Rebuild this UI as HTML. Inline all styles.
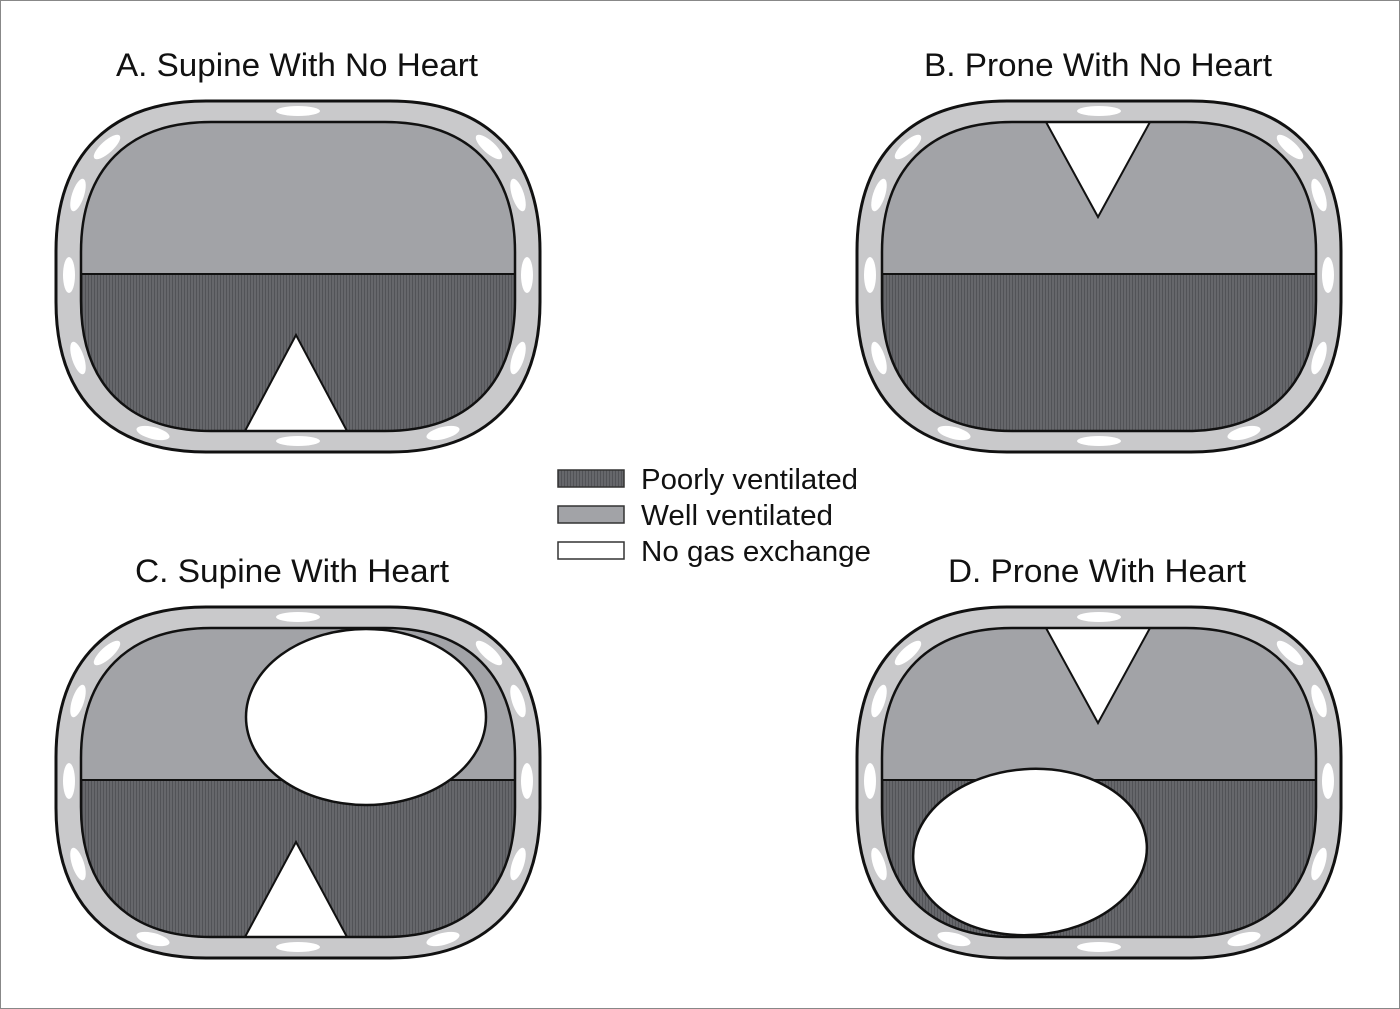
<!DOCTYPE html>
<html><head><style>body{margin:0;background:#fff}svg{display:block}</style></head><body>
<svg width="1400" height="1009" viewBox="0 0 1400 1009" xmlns="http://www.w3.org/2000/svg" font-family="Liberation Sans, sans-serif">
<defs>
<pattern id="poor" width="3" height="3" patternUnits="userSpaceOnUse">
<rect width="3" height="3" fill="#66676b"/><rect width="1" height="3" fill="#525357"/>
</pattern>
<path id="innerPath" d="M156,22 H330 C413,22 460,69 460,152 V201 C460,284 413,331 330,331 H156 C73,331 26,284 26,201 V152 C26,69 73,22 156,22 Z"/>
<g id="ribhalf" fill="#fff">
<ellipse cx="52" cy="47" rx="17" ry="6" transform="rotate(-42 52 47)"/>
<ellipse cx="23" cy="95" rx="17" ry="6" transform="rotate(-72 23 95)"/>
<ellipse cx="14" cy="175" rx="6" ry="18"/>
<ellipse cx="23" cy="258" rx="17" ry="6" transform="rotate(72 23 258)"/>
<ellipse cx="98" cy="333" rx="17" ry="6" transform="rotate(14 98 333)"/>
</g>
<g id="body">
<path d="M151,1 H335 C431,1 485,55 485,151 V202 C485,298 431,352 335,352 H151 C55,352 1,298 1,202 V151 C1,55 55,1 151,1 Z" fill="#c9c9cb" stroke="#111" stroke-width="3"/>
<use href="#ribhalf"/>
<use href="#ribhalf" transform="translate(486 0) scale(-1 1)"/>
<ellipse cx="243" cy="11" rx="22" ry="5" fill="#fff"/>
<ellipse cx="243" cy="341" rx="22" ry="5" fill="#fff"/>
</g>
<clipPath id="inner"><use href="#innerPath"/></clipPath>
<g id="lung">
<g clip-path="url(#inner)">
<rect x="0" y="0" width="486" height="174" fill="#a2a3a7"/>
<rect x="0" y="174" width="486" height="200" fill="url(#poor)"/>
<line x1="0" y1="174" x2="486" y2="174" stroke="#111" stroke-width="2"/>
</g>
</g>
<g id="outline"><use href="#innerPath" fill="none" stroke="#111" stroke-width="2.5"/></g>
</defs>
<rect x="0.5" y="0.5" width="1399" height="1008" fill="#fff" stroke="#888"/>

<text x="297" y="76" font-size="32" text-anchor="middle" fill="#111" textLength="362" lengthAdjust="spacingAndGlyphs">A. Supine With No Heart</text>
<text x="1098" y="76" font-size="32" text-anchor="middle" fill="#111" textLength="348" lengthAdjust="spacingAndGlyphs">B. Prone With No Heart</text>
<text x="292" y="582" font-size="32" text-anchor="middle" fill="#111" textLength="314" lengthAdjust="spacingAndGlyphs">C. Supine With Heart</text>
<text x="1097" y="582" font-size="32" text-anchor="middle" fill="#111" textLength="298" lengthAdjust="spacingAndGlyphs">D. Prone With Heart</text>

<g transform="translate(55 100)">
<use href="#body"/><use href="#lung"/>
<polygon points="190,331 292,331 241,235" fill="#fff" stroke="#111" stroke-width="2"/>
<use href="#outline"/>
</g>
<g transform="translate(856 100)">
<use href="#body"/><use href="#lung"/>
<polygon points="190,22 294,22 242,117" fill="#fff" stroke="#111" stroke-width="2"/>
<use href="#outline"/>
</g>
<g transform="translate(55 606)">
<use href="#body"/><use href="#lung"/>
<polygon points="190,331 292,331 241,236" fill="#fff" stroke="#111" stroke-width="2"/>
<ellipse cx="311" cy="111" rx="120" ry="88" fill="#fff" stroke="#111" stroke-width="2.5"/>
<use href="#outline"/>
</g>
<g transform="translate(856 606)">
<use href="#body"/><use href="#lung"/>
<polygon points="190,22 294,22 242,117" fill="#fff" stroke="#111" stroke-width="2"/>
<ellipse cx="174" cy="246" rx="117" ry="83" transform="rotate(-4 174 246)" fill="#fff" stroke="#111" stroke-width="2.5"/>
<use href="#outline"/>
</g>

<rect x="558" y="470" width="66" height="17" fill="url(#poor)" stroke="#333" stroke-width="1.5"/>
<rect x="558" y="506" width="66" height="17" fill="#a2a3a7" stroke="#333" stroke-width="1.5"/>
<rect x="558" y="542" width="66" height="17" fill="#fff" stroke="#333" stroke-width="1.5"/>
<text x="641" y="489" font-size="29" fill="#111" textLength="217" lengthAdjust="spacingAndGlyphs">Poorly ventilated</text>
<text x="641" y="525" font-size="29" fill="#111" textLength="192" lengthAdjust="spacingAndGlyphs">Well ventilated</text>
<text x="641" y="561" font-size="29" fill="#111" textLength="230" lengthAdjust="spacingAndGlyphs">No gas exchange</text>
</svg>
</body></html>
